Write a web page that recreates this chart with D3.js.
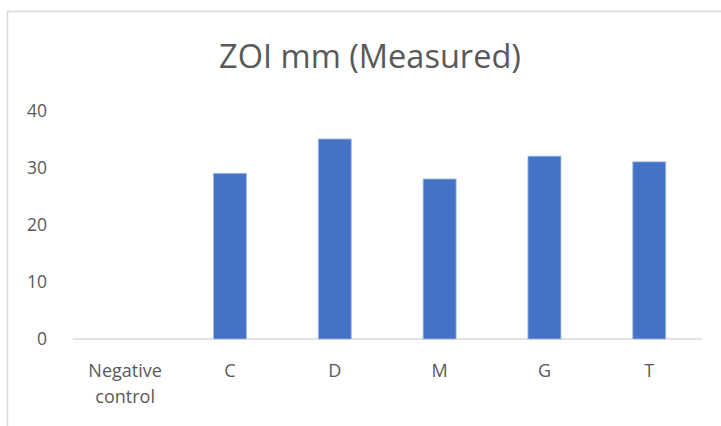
<!DOCTYPE html>
<html><head><meta charset="utf-8">
<script src="https://cdn.jsdelivr.net/npm/d3@7"></script>
<style>body{margin:0;background:#fff}svg{display:block}</style>
</head><body>
<script>
const categories = ["Negative control", "C", "D", "M", "G", "T"];
const values = [0, 29, 35, 28, 32, 31];
const yTicks = [0, 10, 20, 30, 40];
const title = "ZOI mm (Measured)";

const W = 721, H = 426;
const svg = d3.select("body").append("svg").attr("width", W).attr("height", H);
svg.append("rect").attr("x", 7.5).attr("y", 11.5).attr("width", 740).attr("height", 440)
  .attr("fill", "#fff").attr("stroke", "#d9d9d9").attr("stroke-width", 1.5);

const font = "'Open Sans', 'Noto Sans', sans-serif";
const x = d3.scaleBand().domain(categories).range([72.7, 701.7]).paddingInner(0.685).paddingOuter(0.3425);
const y = d3.scaleLinear().domain([0, 40]).range([339, 110.4]);

// title
const t = svg.append("text").attr("x", 370).attr("y", 68).attr("text-anchor", "middle")
  .attr("font-family", font).attr("font-size", 28).attr("fill", "#595959").text(title);
const tw = t.node().getComputedTextLength();
t.attr("font-size", 28 * 302 / tw);

// y axis labels
const yAxis = d3.axisLeft(y).tickValues(yTicks).tickSize(0).tickPadding(0);
const gy = svg.append("g").attr("transform", "translate(47,0)").call(yAxis);
gy.select(".domain").remove();
gy.selectAll("text").attr("font-family", font).attr("font-size", 17.5).attr("fill", "#595959");

// baseline
svg.append("line").attr("x1", 72.7).attr("x2", 701.7).attr("y1", y(0)).attr("y2", y(0))
  .attr("stroke", "#d9d9d9").attr("stroke-width", 1.5);

// bars
svg.selectAll("rect.bar").data(values).join("rect").attr("class", "bar")
  .attr("x", (d, i) => x(categories[i])).attr("width", x.bandwidth())
  .attr("y", d => y(d)).attr("height", d => y(0) - y(d))
  .attr("fill", "#4472c4").attr("stroke", "#a9bfe6").attr("stroke-width", 0.8);

// x labels
const xAxis = d3.axisBottom(x).tickSize(0).tickPadding(0);
const gx = svg.append("g").attr("transform", "translate(0,0)").call(xAxis);
gx.select(".domain").remove();
gx.selectAll(".tick text").each(function(d) {
  const el = d3.select(this);
  el.text(null).attr("y", 0).attr("dy", null);
  const words = d.split(" ");
  words.forEach((w, i) => {
    el.append("tspan").attr("x", 0).attr("y", 377 + i * 26).text(w);
  });
}).attr("font-family", font).attr("font-size", 18).attr("fill", "#595959");
</script>
</body></html>
